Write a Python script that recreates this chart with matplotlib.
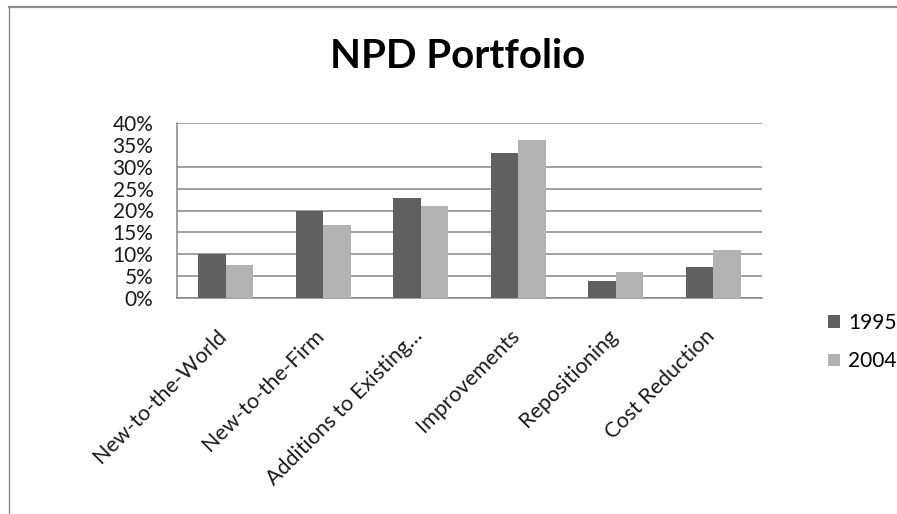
import matplotlib
matplotlib.use("Agg")
import matplotlib.pyplot as plt
from matplotlib.lines import Line2D
from matplotlib.patches import Patch
from matplotlib.transforms import ScaledTranslation
import numpy as np

categories = ["New-to-the-World", "New-to-the-Firm", "Additions to Existing\u2026",
              "Improvements", "Repositioning", "Cost Reduction"]
share_1995 = [0.10, 0.20, 0.228, 0.332, 0.039, 0.072]
share_2004 = [0.076, 0.167, 0.21, 0.36, 0.06, 0.11]
series_labels = ["1995", "2004"]
y_ticks = [0.0, 0.05, 0.10, 0.15, 0.20, 0.25, 0.30, 0.35, 0.40]
y_tick_labels = ["0%", "5%", "10%", "15%", "20%", "25%", "30%", "35%", "40%"]
# the 35% rule is not drawn on this chart
grid_values = [v for v in y_ticks if abs(v - 0.35) > 1e-9]

DARK = "#606060"
LIGHT = "#b2b2b2"
GRID = "#868686"
FONT = ["Lato", "DejaVu Sans"]

W, H = 897, 514
fig = plt.figure(figsize=(W / 100, H / 100), dpi=100)
plt.rcParams["font.family"] = FONT

ax = fig.add_axes([177 / W, 1 - 298 / H, (762 - 177) / W, (298 - 123) / H])

x = np.arange(len(categories))
bw = 0.282
ax.bar(x - bw / 2, share_1995, width=bw, color=DARK, linewidth=0, zorder=3)
ax.bar(x + bw / 2, share_2004, width=bw, color=LIGHT, linewidth=0, zorder=3)

for v in grid_values:
    ax.axhline(v, color=GRID, linewidth=1.1, zorder=0)

ax.set_xlim(-0.5, len(categories) - 0.5)
ax.set_ylim(0, 0.40)
ax.set_yticks(y_ticks)
ax.set_yticklabels(y_tick_labels, fontsize=15, color="#1a1a1a")
ax.set_xticks(x)
ax.set_xticklabels(categories, fontsize=15.5, rotation=45, ha="right", va="top",
                   rotation_mode="anchor", color="#1a1a1a")
ax.tick_params(axis="x", length=0, pad=20)
ax.tick_params(axis="y", length=0, pad=17)

# nudge the slanted category labels a little to the left
shift = ScaledTranslation(-0.09, 0, fig.dpi_scale_trans)
for lab in ax.get_xticklabels():
    lab.set_transform(lab.get_transform() + shift)

for side in ("top", "right"):
    ax.spines[side].set_visible(False)
for side in ("left", "bottom"):
    ax.spines[side].set_color(GRID)
    ax.spines[side].set_linewidth(1.1)

handles = [Patch(facecolor=DARK, edgecolor="none"), Patch(facecolor=LIGHT, edgecolor="none")]
fig.legend(handles, series_labels, loc="center left",
           bbox_to_anchor=(818 / W, 1 - 342 / H), frameon=False,
           fontsize=15, handlelength=0.55, handleheight=0.55, handletextpad=0.4,
           labelspacing=0.9, borderpad=0)

fig.text(458 / W, 1 - 56 / H, "NPD Portfolio", ha="center", va="center",
         fontsize=29, fontweight="bold", color="black")

# thin frame along the top and left edges of the chart area
fig.add_artist(Line2D([9 / W, 1], [1 - 6.5 / H, 1 - 6.5 / H], transform=fig.transFigure,
                      color="#8a8a8a", linewidth=1.6))
fig.add_artist(Line2D([9 / W, 9 / W], [0, 1 - 6.5 / H], transform=fig.transFigure,
                      color="#8a8a8a", linewidth=1.0))

fig.savefig("out.png", dpi=100)
